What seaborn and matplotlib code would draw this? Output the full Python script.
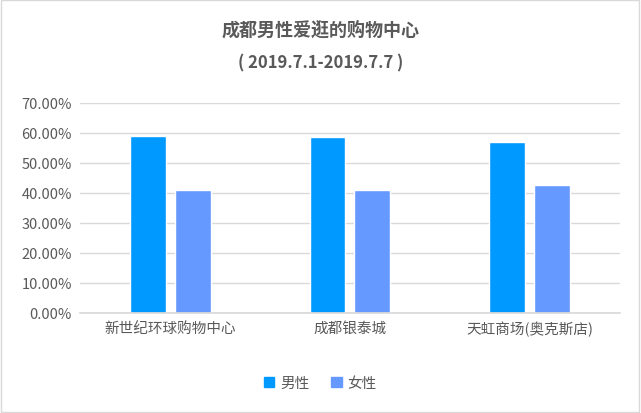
import matplotlib
matplotlib.use("Agg")
import matplotlib.pyplot as plt
import seaborn as sns
import pandas as pd
from matplotlib.ticker import PercentFormatter, MultipleLocator
from matplotlib.patches import Rectangle

categories = ["新世纪环球购物中心", "成都银泰城", "天虹商场(奥克斯店)"]
male = [59.0, 58.7, 57.1]
female = [41.1, 41.1, 42.7]
series = ["男性", "女性"]

df = pd.DataFrame({"cat": categories * 2,
                   "val": male + female,
                   "sex": [series[0]] * 3 + [series[1]] * 3})

sns.set_theme(style="white")
plt.rcParams['font.family'] = ['Noto Sans CJK SC', 'DejaVu Sans']

fig = plt.figure(figsize=(6.41, 4.14), dpi=100)
ax = fig.add_axes([0.125, 0.242, 0.842, 0.507])
sns.barplot(data=df, x="cat", y="val", hue="sex", palette=["#0099FF", "#6699FF"],
            ax=ax, width=0.5, gap=0.2, saturation=1, legend=False)
ax.set_ylim(0, 70)
ax.yaxis.set_major_locator(MultipleLocator(10))
ax.yaxis.set_major_formatter(PercentFormatter(decimals=2))
ax.grid(axis="y", color="#d9d9d9", lw=1)
ax.set_axisbelow(True)
for s in ["top", "right", "left"]:
    ax.spines[s].set_visible(False)
ax.spines["bottom"].set_color("#d9d9d9")
ax.set_xlabel("")
ax.set_ylabel("")
ax.tick_params(axis="both", length=0, labelsize=10.5, colors="#595959", pad=6)

fig.text(0.5, 0.915, "成都男性爱逛的购物中心", ha="center", fontsize=13, fontweight="bold", color="#595959")
fig.text(0.5, 0.835, "( 2019.7.1-2019.7.7 )", ha="center", fontsize=12, fontweight="bold", color="#595959")

handles = [Rectangle((0, 0), 1, 1, color=c) for c in ["#0099FF", "#6699FF"]]
fig.legend(handles, series, loc="center", bbox_to_anchor=(0.5, 0.072), ncol=2, frameon=False,
           fontsize=10.5, handlelength=0.7, handleheight=0.7, columnspacing=1.5, handletextpad=0.4,
           labelcolor="#595959")
fig.add_artist(Rectangle((0.002, 0.003), 0.995, 0.994, transform=fig.transFigure,
                         fill=False, ec="#d9d9d9", lw=1))
fig.savefig("out.png", dpi=100)
